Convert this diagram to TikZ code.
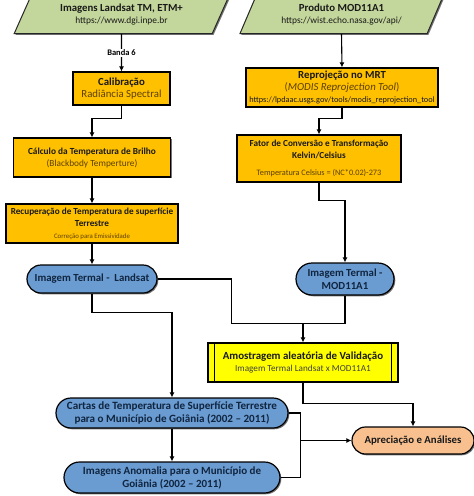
\documentclass[tikz,border=0pt]{standalone}
\usepackage{fontspec}
\setmainfont{Carlito}
\usetikzlibrary{shapes.geometric,shapes.misc,arrows.meta,shadows,calc}

\definecolor{dadoverde}{RGB}{195,214,155}
\definecolor{proclaranja}{RGB}{255,192,0}
\definecolor{imgazul}{RGB}{106,155,209}
\definecolor{valamarelo}{RGB}{255,255,0}
\definecolor{analpessego}{RGB}{248,192,143}
\definecolor{textmarrom}{RGB}{92,64,0}
\definecolor{textazul}{RGB}{16,37,63}

\begin{document}
\begin{tikzpicture}[x=1pt, y=-1pt,
  sombra/.style={drop shadow={shadow xshift=1.3pt, shadow yshift=-1.3pt, fill=black, opacity=0.55}},
  dado/.style={trapezium, trapezium left angle=64, trapezium right angle=116,
    trapezium stretches=true, draw=black!85, line width=1pt, fill=dadoverde, sombra,
    align=center, inner sep=1pt, text=black!90},
  processo/.style={rectangle, draw=black, line width=1.2pt, fill=proclaranja, sombra,
    align=center, inner sep=1pt, text=black!90},
  imagem/.style={rounded rectangle, draw=black, line width=1.2pt, fill=imgazul, sombra,
    align=center, inner sep=1pt, text=textazul, font=\fontsize{10.8}{13}\selectfont\bfseries},
  seta/.style={-{Latex[length=5pt,width=5pt]}, line width=1.1pt},
  linha/.style={line width=1.1pt}]

      \useasboundingbox[fill=white] (0,0) rectangle (474,496);

      \node[dado, minimum width=215pt, minimum height=37pt] (landsat) at (121.5,15)
        {\fontsize{10.8}{12.5}\selectfont\bfseries Imagens Landsat TM, ETM+\\
         \fontsize{9.4}{10}\selectfont https://www.dgi.inpe.br};
      \node[dado, minimum width=203pt, minimum height=37pt] (modis) at (341.5,15)
        {\fontsize{10.8}{12.5}\selectfont\bfseries Produto MOD11A1\\
         \fontsize{9.4}{10}\selectfont https://wist.echo.nasa.gov/api/};

      \node[processo, minimum width=97pt, minimum height=33pt] (calib) at (121.5,88.5)
        {\fontsize{10.8}{12.5}\selectfont\bfseries Calibração\\
         \fontsize{10.8}{12.5}\selectfont\color{textmarrom}Radiância Spectral};
      \node[processo, minimum width=157pt, minimum height=39pt] (brilho) at (92,157.5)
        {\fontsize{9.3}{11.5}\selectfont\bfseries Cálculo da Temperatura de Brilho\\
         \fontsize{9.3}{11.5}\selectfont\color{textmarrom}(Blackbody Temperture)};
      \node[processo, minimum width=172pt, minimum height=39pt] (recup) at (92,223.5)
        {\fontsize{9.2}{11.5}\selectfont\bfseries Recuperação de Temperatura de superfície\\
         \fontsize{9.2}{11.5}\selectfont\bfseries Terrestre\\
         \fontsize{6.8}{8.5}\selectfont\color{textmarrom}Correção para Emissividade};

      \node[processo, minimum width=192pt, minimum height=39pt] (mrt) at (342,87.5)
        {\fontsize{10.8}{12.5}\selectfont\bfseries Reprojeção no MRT\\
         \fontsize{10.8}{11.5}\selectfont\color{textmarrom}(\textit{MODIS Reprojection Tool})\\
         \fontsize{8.3}{9}\selectfont https://lpdaac.usgs.gov/tools/modis\_reprojection\_tool};
      \node[processo, minimum width=164pt, minimum height=47pt] (fator) at (319,158.5)
        {\fontsize{9.2}{11.5}\selectfont\bfseries Fator de Conversão e Transformação\\
         \fontsize{9.2}{11.5}\selectfont\bfseries Kelvin/Celsius\\[5pt]
         \fontsize{8.3}{10}\selectfont\color{textmarrom}Temperatura Celsius = (NC*0.02)-273};

      \node[imagem, minimum width=132pt, minimum height=28pt] (landsatT) at (92,279)
        {Imagem Termal -\ \ Landsat};
      \node[imagem, minimum width=100pt, minimum height=32pt] (modisT) at (345,279)
        {Imagem Termal -\\MOD11A1};

      \node[processo, fill=valamarelo, minimum width=190pt, minimum height=39pt] (amostra) at (303,362.5)
        {\fontsize{10.9}{13}\selectfont\bfseries Amostragem aleatória de Validação\\
         \fontsize{9.2}{10}\selectfont\color{black!75}Imagem Termal Landsat x MOD11A1};
      \draw[line width=1.2pt] ([xshift=7pt]amostra.north west) -- ([xshift=7pt]amostra.south west);
      \draw[line width=1.2pt] ([xshift=-7pt]amostra.north east) -- ([xshift=-7pt]amostra.south east);

      \node[imagem, font=\fontsize{11.1}{13}\selectfont\bfseries, minimum width=234pt, minimum height=30pt] (cartas) at (172,413)
        {Cartas de Temperatura de Superfície Terrestre\\
         para o Município de Goiânia (2002 – 2011)};
      \node[imagem, font=\fontsize{11}{13}\selectfont\bfseries, minimum width=218pt, minimum height=31pt] (anomalia) at (172,477.5)
        {Imagens Anomalia para o Município de\\
         Goiânia (2002 – 2011)};
      \node[imagem, fill=analpessego, text=black!90, minimum width=124pt, minimum height=27pt] (aprec) at (413,440.5)
        {Apreciação e Análises};

      \draw[seta] (landsat.south) -- node[fill=white, inner sep=1pt,
        font=\fontsize{8.5}{9}\selectfont\bfseries] {Banda 6} (calib.north);
      \draw[seta] (calib.south) -- ++(0,13) -| (brilho.north);
      \draw[seta] (brilho.south) -- (recup.north);
      \draw[seta] (recup.south) -- (landsatT.north);

      \draw[seta] (modis.south) -- (mrt.north);
      \draw[seta] (mrt.south) -- ++(0,11) -| (fator.north);
      \draw[seta] (fator.south) -- ++(0,18) -| (modisT.north);

      \coordinate (juncao) at ($(amostra.north)+(0,-19)$);
      \draw[linha] (landsatT.east) -- ++(74,0) |- (juncao);
      \draw[linha] (modisT.south) |- (juncao);
      \draw[seta] (juncao) -- (amostra.north);

      \draw[seta] (landsatT.south) -- ++(0,19) -| (cartas.north);
      \draw[seta] (cartas.south) -- (anomalia.north);

      \coordinate (encontro) at ($(aprec.west)+(-51,0)$);
      \draw[linha] (cartas.east) -| (encontro);
      \draw[linha] (anomalia.east) -| (encontro);
      \draw[seta] (encontro) -- (aprec.west);
      \draw[seta] (amostra.south) -- ++(0,21) -| (aprec.north);
    \end{tikzpicture}
\end{document}
